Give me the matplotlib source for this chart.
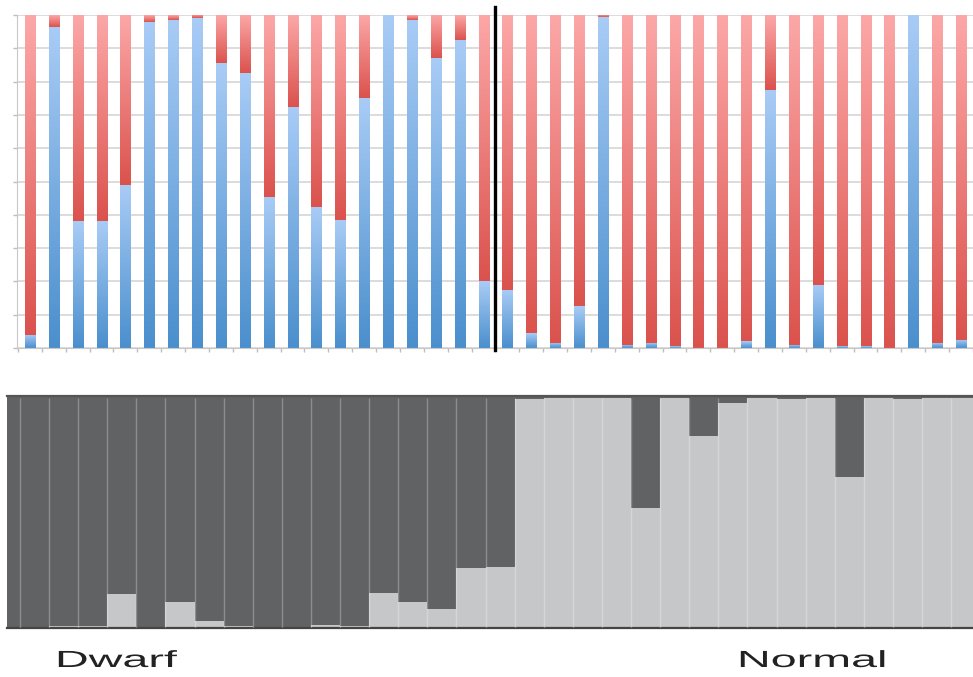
import numpy as np
import matplotlib
matplotlib.use('Agg')
import matplotlib.pyplot as plt
from matplotlib.colors import LinearSegmentedColormap
from matplotlib.patheffects import AbstractPathEffect
from matplotlib.transforms import Affine2D

# top panel: share of the blue (lower) part per sample, red is the rest
blue_share = [0.04, 0.965, 0.38, 0.38, 0.49, 0.98, 0.985, 0.99, 0.855, 0.825,
              0.454, 0.724, 0.424, 0.384, 0.75, 1.0, 0.985, 0.87, 0.925, 0.20,
              0.175, 0.045, 0.016, 0.125, 0.993, 0.01, 0.016, 0.005, 0.0, 0.0,
              0.02, 0.775, 0.01, 0.19, 0.005, 0.005, 0.0, 1.0, 0.016, 0.025]
red_share = [1 - b for b in blue_share]

# bottom panel: share of the light grey (lower) part per individual
light_share = [0.0, 0.005, 0.007, 0.007, 0.146, 0.003, 0.11, 0.03, 0.01, 0.0,
               0.0, 0.013, 0.01, 0.153, 0.11, 0.082, 0.258, 0.265,
               0.986, 0.993, 0.99, 0.993, 0.516, 0.993, 0.828, 0.971, 0.993,
               0.986, 0.993, 0.649, 0.993, 0.986, 0.993, 0.993]
dark_share = [1 - v for v in light_share]

group_labels = ['Dwarf', 'Normal']


class Stretch(AbstractPathEffect):
    # widen text glyphs horizontally around the text's left edge
    def __init__(self, sx):
        super().__init__()
        self.sx = sx

    def draw_path(self, renderer, gc, tpath, affine, rgbFace=None):
        x0 = affine.get_matrix()[0, 2]
        wide = affine + Affine2D().translate(-x0, 0).scale(self.sx, 1).translate(x0, 0)
        renderer.draw_path(gc, tpath, wide, rgbFace)


fig = plt.figure(figsize=(9.73, 6.77), dpi=100)

# ---- top panel: gradient stacked bars
ax1 = fig.add_axes([17 / 973, 329 / 677, 956 / 973, 333 / 677])
x = np.arange(len(blue_share))
blue_cmap = LinearSegmentedColormap.from_list('blue', ['#4a8fcd', '#a9ccf6'])
red_cmap = LinearSegmentedColormap.from_list('red', ['#db524d', '#fca8a8'])
grad = np.linspace(0, 1, 256).reshape(-1, 1)

bars_b = ax1.bar(x, blue_share, width=0.42, color='none', zorder=2)
bars_r = ax1.bar(x, red_share, width=0.42, bottom=blue_share, color='none', zorder=2)
for bars, cmap in [(bars_b, blue_cmap), (bars_r, red_cmap)]:
    for b in bars:
        h = b.get_height()
        if h <= 0:
            continue
        x0, y0 = b.get_xy()
        ax1.imshow(grad, extent=(x0, x0 + b.get_width(), y0, y0 + h),
                   origin='lower', cmap=cmap, aspect='auto', zorder=2)

ax1.set_xlim(-0.54, 39.29)
ax1.set_ylim(0, 1)
ax1.set_yticks(np.arange(0, 1.01, 0.1))
ax1.set_yticklabels([])
ax1.set_xticks(np.arange(-0.5, len(x), 1))
ax1.set_xticklabels([])
ax1.tick_params(colors='#bdbdbd', length=3, width=1)
ax1.grid(axis='y', color='#d6d6d6', lw=1.2, zorder=0)
for s in ['top', 'right']:
    ax1.spines[s].set_visible(False)
ax1.spines['left'].set_color('#c8c8c8')
ax1.spines['bottom'].set_color('#c8c8c8')
ax1.plot([19.5, 19.5], [-0.006, 1.024], color='black', lw=2.4, clip_on=False, zorder=5)

# ---- bottom panel: membership bars
ax2 = fig.add_axes([7.3 / 973, 49 / 677, 965.7 / 973, 232 / 677])
xb = np.arange(len(light_share))
ax2.bar(xb, light_share, width=1.0, color='#c6c7c9', zorder=2)
ax2.bar(xb, dark_share, width=1.0, bottom=light_share, color='#616264', zorder=2)
ax2.vlines(xb[1:] - 0.5, 0, 0.99, colors='white', alpha=0.28, lw=1, zorder=3)
ax2.set_xlim(0.064, 33.25)
ax2.set_ylim(0, 1)
ax2.set_xticks([])
ax2.set_yticks([])
ax2.spines['left'].set_visible(False)
ax2.spines['right'].set_visible(False)
ax2.spines['top'].set_color('#555555')
ax2.spines['top'].set_linewidth(1.6)
ax2.spines['bottom'].set_color('#444444')
ax2.spines['bottom'].set_linewidth(1.6)

# group labels
for label, px in zip(group_labels, [55, 737]):
    fig.text(px / 973, 1 - 667 / 677, label, fontsize=16.8, family='Liberation Sans',
             color='#222222', ha='left', va='baseline',
             path_effects=[Stretch(2.0)])

fig.savefig('out.png', dpi=100)
